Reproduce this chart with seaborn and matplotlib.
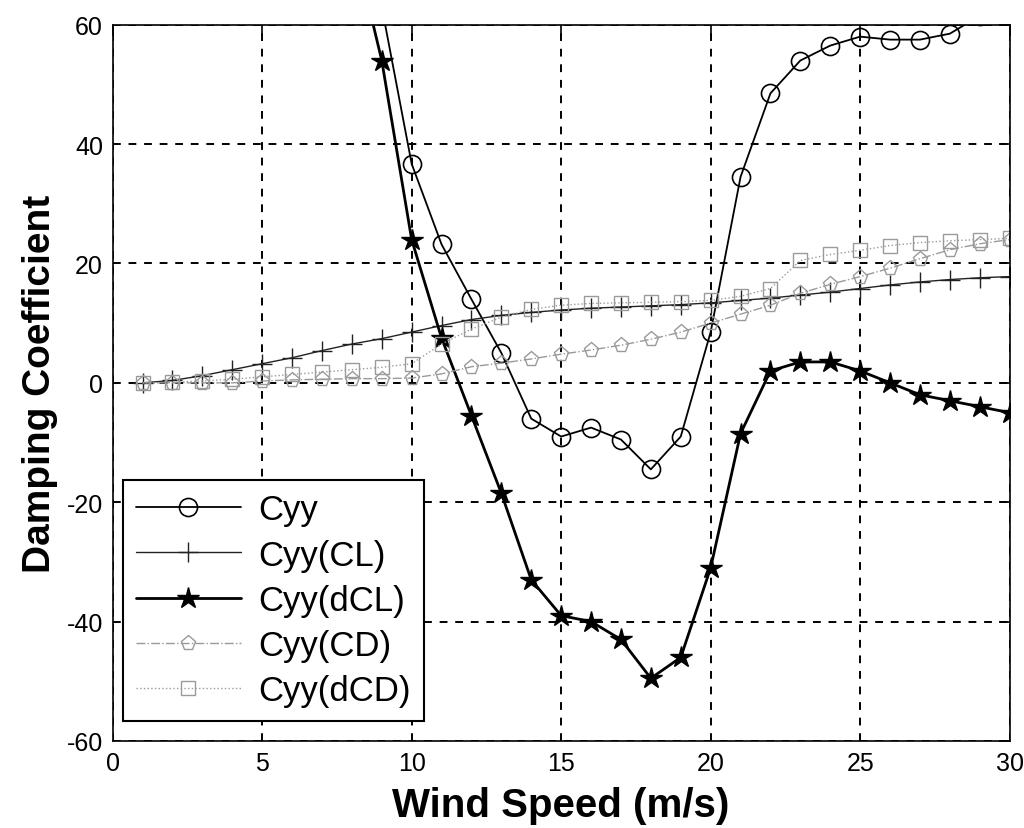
import numpy as np
import pandas as pd
import matplotlib
matplotlib.use('Agg')
import matplotlib.pyplot as plt
import seaborn as sns

# 풍속별 감쇠계수 값
ws = list(range(1, 31))
ws_hi = list(range(8, 31))

cyy = [95, 63, 36.7, 23.2, 14, 5, -6, -9, -7.5, -9.5, -14.5, -9, 8.5, 34.5,
       48.5, 54, 56.5, 58, 57.5, 57.5, 58.5, 61.5, 62]
cyy_dcl = [75, 54, 24, 7.5, -5.5, -18.5, -33, -39, -40, -43, -49.5, -46, -31,
           -8.5, 2, 3.5, 3.5, 2, 0, -2, -3, -4, -5]
cyy_cl = [0, 0.4, 1.2, 2.2, 3.2, 4.2, 5.4, 6.5, 7.4, 8.5, 9.6, 10.6, 11.3,
          11.8, 12.2, 12.5, 12.7, 12.9, 13.1, 13.4, 13.8, 14.2, 14.7, 15.2,
          15.8, 16.4, 16.9, 17.3, 17.6, 17.8]
cyy_cd = [0, 0, 0, 0, 0.3, 0.5, 0.6, 0.7, 0.7, 0.8, 1.5, 2.7, 3.3, 4.0, 4.8,
          5.5, 6.3, 7.3, 8.5, 10, 11.5, 13, 15, 16.5, 17.8, 19.2, 20.8, 22.3,
          23.3, 24]
cyy_dcd = [0, 0.1, 0.3, 0.6, 1.0, 1.4, 1.8, 2.2, 2.6, 3.2, 6.5, 9, 11, 12.3,
           13, 13.3, 13.4, 13.5, 13.6, 13.8, 14.5, 15.8, 20.5, 21.5, 22.2,
           23, 23.5, 23.8, 24, 24.2]

sns.set_style('white')
plt.rcParams['font.family'] = ['Liberation Sans', 'DejaVu Sans']
plt.rcParams['axes.unicode_minus'] = False
plt.rcParams['text.color'] = 'black'
plt.rcParams['axes.labelcolor'] = 'black'
plt.rcParams['xtick.color'] = 'black'
plt.rcParams['ytick.color'] = 'black'

fig = plt.figure(figsize=(10.24, 8.29), dpi=100)
ax = fig.add_axes([0.110, 0.105, 0.876, 0.864])

gray = '#9a9a9a'
sns.lineplot(x=ws_hi, y=cyy, ax=ax, color='black', lw=1.3, marker='o', ms=13,
             mfc='none', mec='black', mew=1.2, label='Cyy')
sns.lineplot(x=ws, y=cyy_cl, ax=ax, color='#222222', lw=1.0, marker='+', ms=15,
             mec='#222222', mew=1.0, label='Cyy(CL)')
sns.lineplot(x=ws_hi, y=cyy_dcl, ax=ax, color='black', lw=2.0, marker='*', ms=16,
             mfc='black', mec='black', mew=1.0, label='Cyy(dCL)')
sns.lineplot(x=ws, y=cyy_cd, ax=ax, color=gray, lw=1.0, linestyle='-.', marker='p',
             ms=11, mfc='none', mec=gray, mew=1.0, label='Cyy(CD)')
sns.lineplot(x=ws, y=cyy_dcd, ax=ax, color=gray, lw=1.0, linestyle=':', marker='s',
             ms=10, mfc='none', mec=gray, mew=1.0, label='Cyy(dCD)')

ax.set_xlim(0, 30)
ax.set_ylim(-60, 60)
ax.set_xticks(range(0, 31, 5))
ax.set_yticks(range(-60, 61, 20))
ax.grid(True, color='black', linestyle=(0, (4, 4)), lw=1.4)
for s in ax.spines.values():
    s.set_color('black')
    s.set_linewidth(1.2)
ax.tick_params(direction='in', length=8, width=1.2, top=True, right=True,
               labelsize=18, pad=7)

ax.set_xlabel('Wind Speed (m/s)', fontsize=29, fontweight='bold', labelpad=8)
ax.set_ylabel('Damping Coefficient', fontsize=28, fontweight='bold', labelpad=6)

leg = ax.legend(loc='lower left', bbox_to_anchor=(0.011, 0.028), fontsize=25,
                frameon=True, fancybox=False, edgecolor='black', framealpha=1,
                handlelength=3.0, borderpad=0.4, labelspacing=0.35,
                handletextpad=0.5, borderaxespad=0)
leg.get_frame().set_linewidth(1.5)

fig.savefig('out.png', dpi=100)
